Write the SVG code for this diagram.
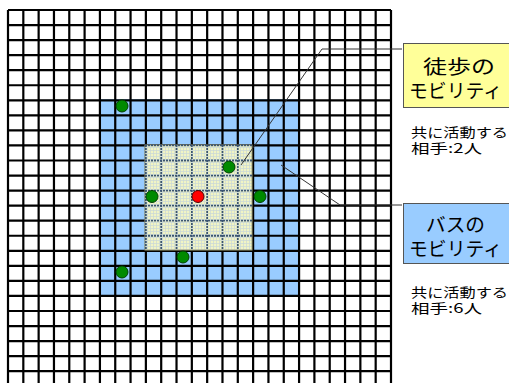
<svg xmlns="http://www.w3.org/2000/svg" width="509" height="383" viewBox="0 0 509 383">
<defs>
<style>
.grid{stroke:#000;stroke-width:2.2;fill:none}
.inner{stroke:#3b5573;stroke-width:1.8;stroke-dasharray:2 1;fill:none}
.lead{stroke:#333;stroke-width:1;fill:none}
.title{font-family:"Noto Sans CJK JP","Noto Sans",sans-serif;font-size:19px;fill:#000}
.note{font-family:"Noto Sans CJK JP","Noto Sans",sans-serif;font-size:13px;fill:#000}
.g{fill:#008a00;stroke:#004000;stroke-width:1}
.r{fill:#ff0000;stroke:#500000;stroke-width:1}
</style>
<pattern id="fine" width="3" height="3" patternUnits="userSpaceOnUse">
<rect width="3" height="3" fill="#f1f4c4"/>
<path d="M0 0.5H3M0.5 0V3" stroke="#c9d7d8" stroke-width="0.7"/>
</pattern>
</defs>
<rect width="509" height="383" fill="#fff"/>
<g id="bus-area"><rect x="99" y="99" width="200" height="197" fill="#99ccff"/></g>
<g id="grid">
<path class="grid" d="M8 10V383M23.32 10V383M38.64 10V383M53.96 10V383M69.28 10V383M84.6 10V383M99.92 10V383M115.24 10V383M130.56 10V383M145.88 10V383M161.2 10V383M176.52 10V383M191.84 10V383M207.16 10V383M222.48 10V383M237.8 10V383M253.12 10V383M268.44 10V383M283.76 10V383M299.08 10V383M314.4 10V383M329.72 10V383M345.04 10V383M360.36 10V383M375.68 10V383M391 10V383"/>
<path class="grid" d="M8 10H391M8 25.05H391M8 40.1H391M8 55.15H391M8 70.2H391M8 85.25H391M8 100.3H391M8 115.35H391M8 130.4H391M8 145.45H391M8 160.5H391M8 175.55H391M8 190.6H391M8 205.65H391M8 220.7H391M8 235.75H391M8 250.8H391M8 265.85H391M8 280.9H391M8 295.95H391M8 311H391M8 326.05H391M8 341.1H391M8 356.15H391M8 371.2H391"/>
</g>
<g id="walk-area">
<rect x="145" y="145" width="107" height="105" fill="url(#fine)" stroke="#a3a37a" stroke-width="1"/>
<path class="inner" d="M145.88 145V250M161.2 145V250M176.52 145V250M191.84 145V250M207.16 145V250M222.48 145V250M237.8 145V250M145 145.45H252M145 160.5H252M145 175.55H252M145 190.6H252M145 205.65H252M145 220.7H252M145 235.75H252"/>
</g>
<g id="connectors">
<polyline class="lead" points="402,49 322,49 241,165"/>
<polyline class="lead" points="402,205 340,205 281,165"/>
</g>
<g id="persons">
<circle class="g" cx="122" cy="106" r="6"/>
<circle class="g" cx="229" cy="167" r="6"/>
<circle class="g" cx="152" cy="196.5" r="6"/>
<circle class="r" cx="198" cy="196.5" r="6"/>
<circle class="g" cx="260" cy="196.5" r="6"/>
<circle class="g" cx="183" cy="257" r="6"/>
<circle class="g" cx="122" cy="272" r="6"/>
</g>
<g id="walk-label">
<rect x="403.5" y="43.5" width="110" height="64" fill="#ffff99" stroke="#555" stroke-width="1"/>
<text class="title" x="423" y="74" textLength="72" lengthAdjust="spacingAndGlyphs">徒歩の</text>
<text class="title" x="409" y="98" textLength="93" lengthAdjust="spacingAndGlyphs">モビリティ</text>
</g>
<g id="walk-note">
<text class="note" x="411" y="137" textLength="97" lengthAdjust="spacingAndGlyphs">共に活動する</text>
<text class="note" x="411" y="153" textLength="71" lengthAdjust="spacingAndGlyphs">相手:2人</text>
</g>
<g id="bus-label">
<rect x="403.5" y="203.5" width="110" height="60" fill="#99ccff" stroke="#555" stroke-width="1"/>
<text class="title" x="426" y="232" textLength="59" lengthAdjust="spacingAndGlyphs">バスの</text>
<text class="title" x="409" y="256" textLength="93" lengthAdjust="spacingAndGlyphs">モビリティ</text>
</g>
<g id="bus-note">
<text class="note" x="411" y="297" textLength="97" lengthAdjust="spacingAndGlyphs">共に活動する</text>
<text class="note" x="411" y="313" textLength="71" lengthAdjust="spacingAndGlyphs">相手:6人</text>
</g>
</svg>
